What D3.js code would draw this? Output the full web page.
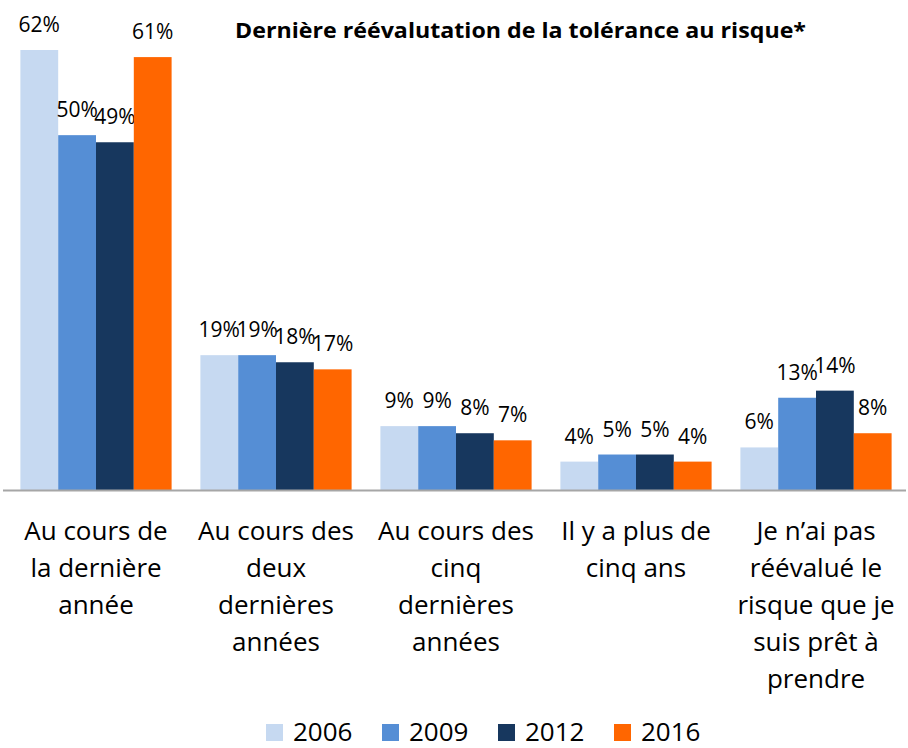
<!DOCTYPE html>
<html><head><meta charset="utf-8">
<script src="https://cdn.jsdelivr.net/npm/d3@7"></script>
<style>body{margin:0;background:#fff;} text{font-family:"Open Sans",Lato,sans-serif;fill:#000;}</style>
</head><body>
<svg id="c" width="908" height="748"></svg>
<script>
const categories = [
  ["Au cours de","la dernière","année"],
  ["Au cours des","deux","dernières","années"],
  ["Au cours des","cinq","dernières","années"],
  ["Il y a plus de","cinq ans"],
  ["Je n’ai pas","réévalué le","risque que je","suis prêt à","prendre"]
];
const years = ["2006","2009","2012","2016"];
const v2006 = [62,19,9,4,6];
const v2009 = [50,19,9,5,13];
const v2012 = [49,18,8,5,14];
const v2016 = [61,17,7,4,8];
const seriesValues = [v2006,v2009,v2012,v2016];
const colors = ["#C6D9F1","#558ED5","#17375E","#FF6600"];
const title = "Dernière réévalutation de la tolérance au risque*";

const svg = d3.select("#c");
const x0 = d3.scaleBand().domain(d3.range(categories.length)).range([6,906]).paddingInner(0.16).paddingOuter(0.08);
const x1 = d3.scaleBand().domain(d3.range(years.length)).range([0,x0.bandwidth()]);
const y = d3.scaleLinear().domain([0,62]).range([490,50]);

seriesValues.forEach((vals,s)=>{
  const g = svg.append("g");
  g.selectAll("rect").data(vals).join("rect")
    .attr("x",(d,i)=>x0(i)+x1(s)).attr("width",x1.bandwidth())
    .attr("y",d=>y(d)).attr("height",d=>y(0)-y(d))
    .attr("fill",colors[s]);
  g.selectAll("text").data(vals).join("text")
    .attr("x",(d,i)=>x0(i)+x1(s)+x1.bandwidth()/2)
    .attr("y",d=>y(d)-18)
    .attr("text-anchor","middle").attr("font-size",21)
    .text(d=>d+"%");
});

svg.append("line").attr("x1",3).attr("x2",906).attr("y1",490.5).attr("y2",490.5)
  .attr("stroke","#A6A6A6").attr("stroke-width",2);

categories.forEach((lines,i)=>{
  const t = svg.append("text").attr("text-anchor","middle").attr("font-size",26);
  lines.forEach((ln,j)=>{
    t.append("tspan").attr("x",x0(i)+x0.bandwidth()/2).attr("y",540+j*37).text(ln);
  });
});

svg.append("text").attr("x",235).attr("y",38)
  .attr("font-size",21).attr("font-weight","bold")
  .attr("textLength",571).attr("lengthAdjust","spacingAndGlyphs").text(title);

const legX = [266,382,498,614];
years.forEach((yr,i)=>{
  svg.append("rect").attr("x",legX[i]).attr("y",724).attr("width",17).attr("height",17).attr("fill",colors[i]);
  svg.append("text").attr("x",legX[i]+27).attr("y",741).attr("font-size",26).text(yr);
});
</script>
</body></html>
